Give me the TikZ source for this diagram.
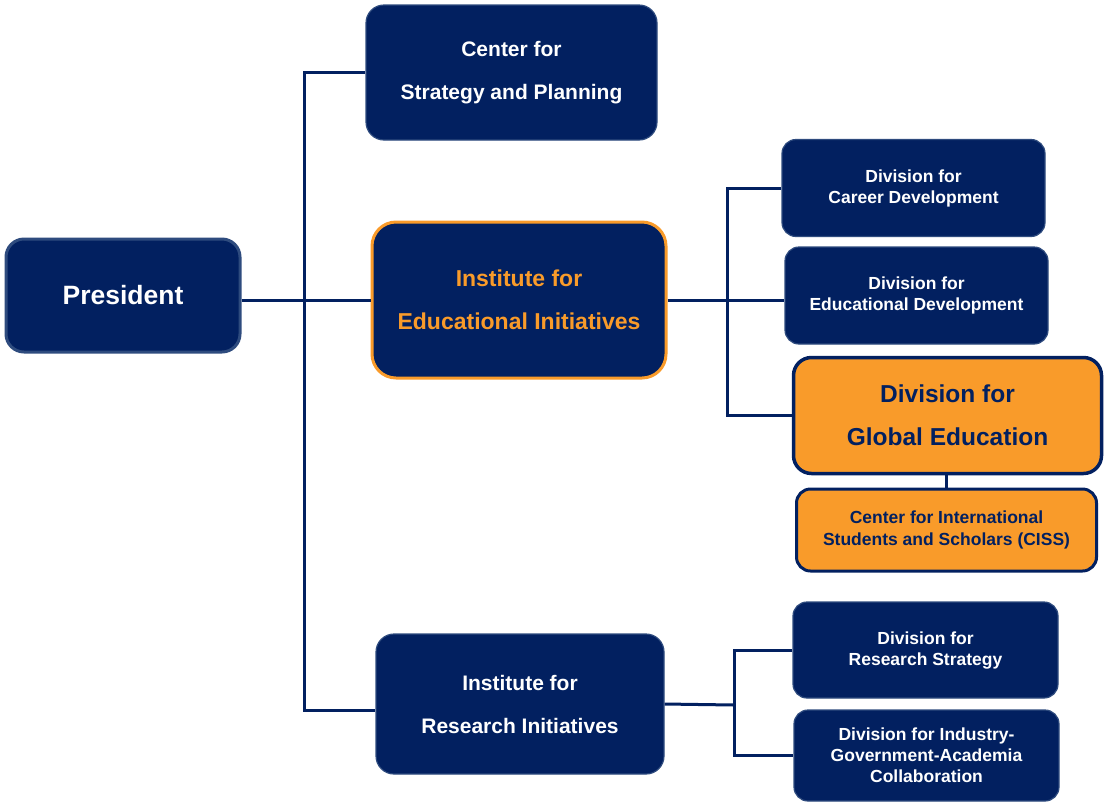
\documentclass[tikz,border=0pt]{standalone}
\usepackage{fontspec}
\setmainfont{Liberation Sans}
\definecolor{navy}{HTML}{022060}
\definecolor{amber}{HTML}{F99B2A}
\definecolor{rim}{HTML}{2E4B7E}
\tikzset{
  unit/.style={draw=rim, line width=1.2pt, fill=navy, text=white, rounded corners=18pt, align=center, inner sep=0pt},
  bigunit/.style={unit, minimum width=291pt, minimum height=135pt, font=\bfseries\fontsize{21}{43}\selectfont},
  subunit/.style={unit, rounded corners=14pt, minimum width=263pt, minimum height=97pt, font=\bfseries\fontsize{17.5}{21}\selectfont},
  hiinst/.style={bigunit, draw=amber, line width=3pt, text=amber, minimum width=294pt, minimum height=156pt, rounded corners=24pt, font=\bfseries\fontsize{23}{43}\selectfont},
  hidiv/.style={unit, fill=amber, draw=navy, line width=3.5pt, text=navy, rounded corners=18pt},
  link/.style={draw=navy, line width=3pt},
}
\begin{document}
\begin{tikzpicture}[x=1pt, y=-1pt]
  \useasboundingbox (0,0) rectangle (1107,804);
  \node[unit, draw=rim, line width=3pt, minimum width=234pt, minimum height=113pt, font=\bfseries\fontsize{26.5}{30}\selectfont] (pres) at (123,295.5) {President};
  \node[bigunit] (csp) at (511.5,72.5) {Center for\\Strategy and Planning};
  \node[hiinst] (iei) at (519,300) {Institute for\\Educational Initiatives};
  \node[bigunit, minimum width=288pt, minimum height=140pt] (iri) at (520,704) {Institute for\\Research Initiatives};
  \node[subunit] (cd) at (913.5,188) {Division for\\Career Development};
  \node[subunit] (edd) at (916.5,295.5) {Division for\\Educational Development};
  \node[hidiv, minimum width=308pt, minimum height=116pt, font=\bfseries\fontsize{24.5}{43}\selectfont] (ge) at (947.5,415.5) {Division for\\Global Education};
  \node[hidiv, line width=3pt, rounded corners=14pt, minimum width=300pt, minimum height=82pt, font=\bfseries\fontsize{17.5}{22}\selectfont] (ciss) at (946.5,530) {Center for International\\Students and Scholars (CISS)};
  \node[subunit, minimum width=265pt, minimum height=96pt] (rs) at (925.5,650) {Division for\\Research Strategy};
  \node[subunit, minimum width=265pt, minimum height=91pt] (iga) at (926.5,755.5) {Division for Industry-\\Government-Academia\\Collaboration};
  % branch points
  \coordinate (trunk) at (304,300);
  \coordinate (edubranch) at (727,298);
  \coordinate (resbranch) at (734,705);
  \draw[link] (pres.east |- iei.west) -- (iei.west);
  \draw[link] (csp.west) -| (trunk) |- ([yshift=-6pt]iri.west);
  \draw[link] (iei.east) -- (iei.east -| edd.west);
  \draw[link] (cd.west) -| (edubranch) |- (ge.west);
  \draw[link, line width=3.5pt] (ge.south -| ciss.north) -- (ciss.north);
  \draw[link] (iri.east) -- (resbranch);
  \draw[link] (rs.west) -| (resbranch) |- (iga.west);
\end{tikzpicture}
\end{document}
